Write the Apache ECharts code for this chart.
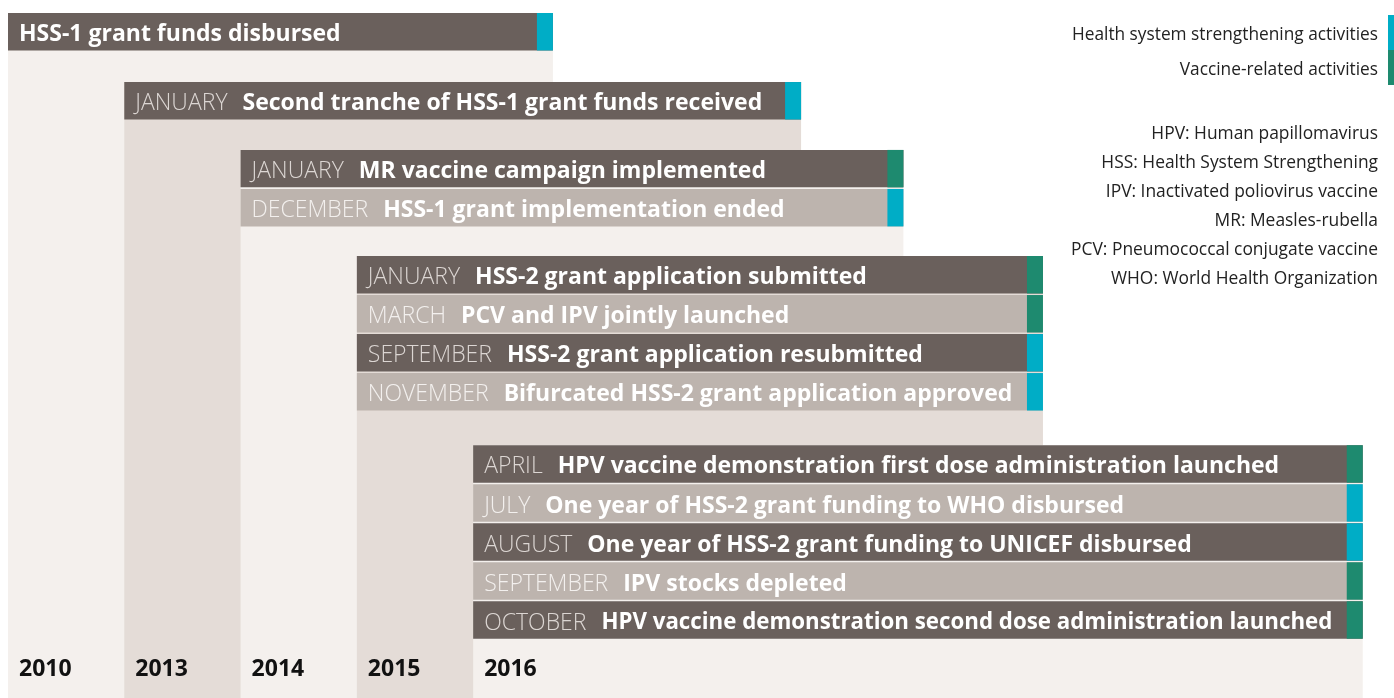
<!DOCTYPE html>
<html><head><meta charset="utf-8">
<script src="https://cdn.jsdelivr.net/npm/echarts@6/dist/echarts.min.js"></script>
<style>html,body{margin:0;padding:0;background:#fff}#c{width:1394px;height:698px}</style>
</head><body><div id="c"></div>
<script>
// ---- data ----
const years = ['2010', '2013', '2014', '2015', '2016'];
// right edge of each year's block, in column units (column i starts at i)
const yearSpanEnd = [4.686, 6.82, 7.70, 8.90, 11.65];
const eventYear = [0, 1, 2, 2, 3, 3, 3, 3, 4, 4, 4, 4, 4];
const eventMonth = ['', 'JANUARY', 'JANUARY', 'DECEMBER', 'JANUARY', 'MARCH', 'SEPTEMBER', 'NOVEMBER', 'APRIL', 'JULY', 'AUGUST', 'SEPTEMBER', 'OCTOBER'];
const eventText = [
  'HSS-1 grant funds disbursed',
  'Second tranche of HSS-1 grant funds received',
  'MR vaccine campaign implemented',
  'HSS-1 grant implementation ended',
  'HSS-2 grant application submitted',
  'PCV and IPV jointly launched',
  'HSS-2 grant application resubmitted',
  'Bifurcated HSS-2 grant application approved',
  'HPV vaccine demonstration first dose administration launched',
  'One year of HSS-2 grant funding to WHO disbursed',
  'One year of HSS-2 grant funding to UNICEF disbursed',
  'IPV stocks depleted',
  'HPV vaccine demonstration second dose administration launched'
];
const eventType = ['hss', 'hss', 'vac', 'hss', 'vac', 'vac', 'hss', 'hss', 'vac', 'hss', 'hss', 'vac', 'vac'];
const typeNames = { hss: 'Health system strengthening activities', vac: 'Vaccine-related activities' };
const abbreviations = [
  'HPV: Human papillomavirus',
  'HSS: Health System Strengthening',
  'IPV: Inactivated poliovirus vaccine',
  'MR: Measles-rubella',
  'PCV: Pneumococcal conjugate vaccine',
  'WHO: World Health Organization'
];

// ---- layout (row units) ----
const BAR_H = 0.96, GAPS = [0.77, 0.74, 0.72, 0.85, 0], Y_MAX = 17.56;
const groupTop = [];
let cur = 0;
years.forEach((y, g) => {
  groupTop.push(cur);
  const n = eventYear.filter(e => e === g).length;
  cur += n + GAPS[g];
});
const eventRow = [], eventShade = [];
eventYear.forEach((g, i) => {
  const k = eventYear.slice(0, i).filter(e => e === g).length;
  eventRow.push(groupTop[g] + k);
  eventShade.push(k % 2);
});

const COL = { dark: '#6a605c', light: '#bdb4ae', panelA: '#f4f0ed', panelB: '#e4dcd7', hss: '#00adc6', vac: '#1e8a6f' };
const FONT = '"Open Sans", "Noto Sans", sans-serif';
const M_SIZE = 23, B_SIZE = 23, M_PAD = 15, ACCENT = 16, INSET = 11;

const measureCtx = document.createElement('canvas').getContext('2d');
function textWidth(t, weight, size) {
  measureCtx.font = weight + ' ' + size + 'px ' + FONT;
  return measureCtx.measureText(t).width;
}

function panelItem(params, api) {
  const g = api.value(0);
  const p0 = api.coord([g, groupTop[g]]);
  const p1 = api.coord([yearSpanEnd[g], Y_MAX]);
  const ly = api.coord([g, Y_MAX - 0.74])[1];
  return {
    type: 'group',
    children: [
      { type: 'rect', shape: { x: p0[0], y: p0[1], width: p1[0] - p0[0], height: p1[1] - p0[1] },
        style: { fill: g % 2 ? COL.panelB : COL.panelA } },
      { type: 'text', x: p0[0] + INSET, y: ly,
        style: { text: years[g], font: 'bold 23px ' + FONT, fill: '#111', verticalAlign: 'middle', align: 'left' } }
    ]
  };
}

function barItem(type) {
  return function (params, api) {
    const i = api.value(0);
    const g = eventYear[i];
    const p0 = api.coord([g, eventRow[i]]);
    const p1 = api.coord([yearSpanEnd[g], eventRow[i] + BAR_H]);
    const w = p1[0] - p0[0], h = p1[1] - p0[1];
    const shade = eventShade[i];
    const monthColor = shade ? '#f3f0ee' : '#dcd6d3';
    // fit the bold label into the room left in the bar
    const mW = eventMonth[i] ? textWidth(eventMonth[i], 300, M_SIZE) + M_PAD : 0;
    const room = w - ACCENT - INSET - mW - 14;
    const bW = textWidth(eventText[i], 'bold', B_SIZE);
    const bSize = bW > room ? B_SIZE * room / bW : B_SIZE;
    const txt = (eventMonth[i] ? '{m|' + eventMonth[i] + '}' : '') + '{b|' + eventText[i] + '}';
    return {
      type: 'group',
      children: [
        { type: 'rect', shape: { x: p0[0], y: p0[1], width: w, height: h }, style: { fill: shade ? COL.light : COL.dark } },
        { type: 'rect', shape: { x: p1[0] - ACCENT, y: p0[1], width: ACCENT, height: h }, style: { fill: COL[type] } },
        { type: 'text', x: p0[0] + INSET, y: p0[1] + h / 2 + 3,
          style: {
            text: txt, verticalAlign: 'middle', align: 'left', fill: '#ffffff',
            rich: {
              m: { fontFamily: FONT, fontWeight: 300, fontSize: M_SIZE, fill: monthColor, padding: [0, M_PAD, 0, 0] },
              b: { fontFamily: FONT, fontWeight: 'bold', fontSize: bSize, fill: '#ffffff' }
            }
          } }
      ]
    };
  };
}

const chart = echarts.init(document.getElementById('c'), null, { renderer: 'canvas' });
const barSeries = ['hss', 'vac'].map(t => ({
  type: 'custom',
  name: typeNames[t],
  coordinateSystem: 'cartesian2d',
  renderItem: barItem(t),
  itemStyle: { color: COL[t] },
  encode: { x: 1, y: 2 },
  data: eventYear.map((g, i) => [i, g, eventRow[i]]).filter(d => eventType[d[0]] === t),
  z: 3,
  silent: true
}));

chart.setOption({
  animation: false,
  backgroundColor: '#ffffff',
  grid: { left: 8, right: 8, top: 13, bottom: 0 },
  xAxis: { type: 'value', min: 0, max: 11.85, show: false },
  yAxis: { type: 'value', min: 0, max: Y_MAX, inverse: true, show: false },
  legend: {
    orient: 'vertical', right: 0, top: 15, align: 'right', padding: 0,
    icon: 'rect', itemWidth: 6, itemHeight: 35, itemGap: 0, selectedMode: false,
    formatter: name => '{t|' + name + '}',
    textStyle: {
      fontFamily: FONT, fontSize: 17.3, color: '#222',
      rich: { t: { fontFamily: FONT, fontSize: 17.3, color: '#222', padding: [6, 5, 0, 0] } }
    },
    data: [typeNames.hss, typeNames.vac]
  },
  graphic: abbreviations.map((a, k) => ({
    type: 'text', right: 16, top: 126 + k * 29,
    style: { text: a, font: '17.4px ' + FONT, fill: '#222', align: 'right' }
  })),
  series: [
    {
      type: 'custom', name: 'years', coordinateSystem: 'cartesian2d',
      renderItem: panelItem, encode: { x: 0, y: 1 },
      data: years.map((y, g) => [g, groupTop[g]]), z: 1, silent: true
    }
  ].concat(barSeries)
});
</script></body></html>
